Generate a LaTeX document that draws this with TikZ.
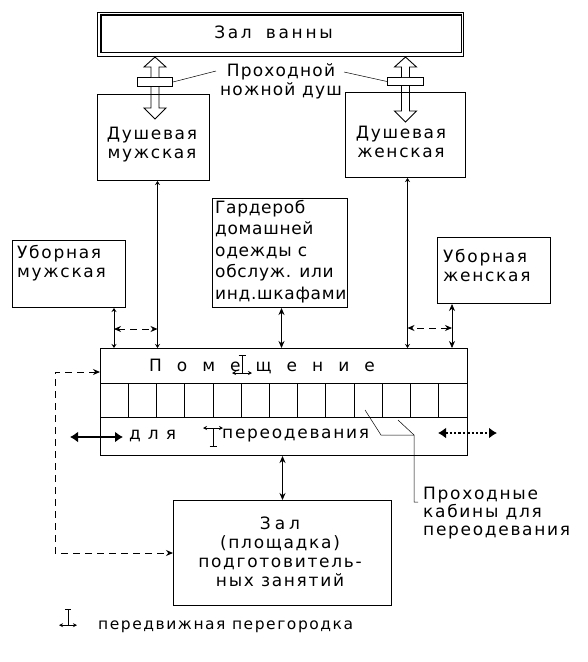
\documentclass[tikz,border=0pt]{standalone}
\usepackage{fontspec}
\setmainfont{DejaVu Sans}[LetterSpace=10]
\usetikzlibrary{arrows.meta,calc}
\newcommand{\rus}{\fontsize{17}{19}\selectfont}
\newcommand{\gap}{\hskip 15pt}
\tikzset{partition/.pic={
  \draw[line width=0.8pt] (0,-10) -- (0,8);
  \draw[line width=0.8pt] (-3.5,-10) -- (3.5,-10);
  \draw[line width=0.8pt,{Stealth[length=4pt,width=4pt]}-{Stealth[length=4pt,width=4pt]}] (-10,8) -- (10,8);
}}

\begin{document}
\begin{tikzpicture}[x=1pt,y=-1pt,font=\rus,
  box/.style={draw,line width=1pt,anchor=north west,inner sep=0pt},
  txt/.style={align=center,inner sep=0pt},
  txl/.style={align=left,inner sep=0pt,anchor=north west},
  lnk/.style={line width=0.7pt,{Stealth[length=4pt,width=5pt]}-{Stealth[length=4pt,width=5pt]}},
  arr/.style={line width=0.8pt,{Stealth[length=7pt,width=6pt]}-{Stealth[length=7pt,width=6pt]}},
  dlnk/.style={arr,dash pattern=on 7pt off 5pt},
  hol/.style={line width=0.9pt,line join=miter,fill=white},
  bold/.style={line width=2.4pt,{Latex[length=8pt,width=11pt]}-{Latex[length=8pt,width=11pt]}},
  lead/.style={line width=0.5pt}]
\useasboundingbox (0,0) rectangle (587,662);

% bath and foot showers
\node[box,line width=1.1pt,minimum width=366,minimum height=44] (bath) at (97,12) {};
\draw[line width=1.1pt] ($(bath.north west)+(4,3)$) rectangle ($(bath.south east)+(-3,-5)$);
\node[txt,font=\rus\addfontfeatures{LetterSpace=16}] (batht) at ($(bath.center)+(-7,-2)$) {Зал\hskip 14pt ванны};
\node[box,minimum width=35,minimum height=9] (doorL) at (137,77) {};
\node[box,minimum width=36,minimum height=8] (doorR) at (387,77) {};
\node[txt,font=\rus\addfontfeatures{LetterSpace=7}] (pass) at (281,81) {Проходной\\ножной душ};
% hollow passage arrows
\draw[hol] (doorL.north) ++(-4,0) -- ++(0,-10) -- ++(-7,0) -- ++(11,-10) -- ++(11,10) -- ++(-7,0) -- ++(0,10);
\draw[hol] (doorL.south) ++(-4,0) -- ++(0,21) -- ++(-7,0) -- ++(11,11) -- ++(11,-11) -- ++(-7,0) -- ++(0,-21);
\draw[hol] (doorR.north) ++(-4,0) -- ++(0,-10) -- ++(-7,0) -- ++(11,-10) -- ++(11,10) -- ++(-7,0) -- ++(0,10);
\draw[hol] (doorR.south) ++(-4,0) -- ++(0,25) -- ++(-7,0) -- ++(11,11) -- ++(11,-11) -- ++(-7,0) -- ++(0,-25);
\draw[lead] (doorL.east) -- ($(pass.west)+(-4,-10)$);
\draw[lead] ($(pass.east)+(2,-9)$) -- (doorR.west);

% showers, wardrobe, toilets
\node[box,minimum width=112,minimum height=86] (showerM) at (97,94) {};
\node[txt] (showerMt) at (152,145) {Душевая\\мужская};
\node[box,minimum width=120,minimum height=85] (showerW) at (345,92) {};
\node[txt] (showerWt) at (401,142) {Душевая\\женская};
\node[box,minimum width=135,minimum height=109] (ward) at (212,198) {};
\node[txl,font=\fontsize{17}{21.5}\selectfont\addfontfeatures{LetterSpace=4}] (wardt) at (215,200) {Гардероб\\домашней\\одежды с\\обслуж. или\\инд.шкафами};
\node[box,minimum width=113,minimum height=67] (toilM) at (12,240) {};
\node[txl] (toilMt) at (17,245) {Уборная\\мужская};
\node[box,minimum width=113,minimum height=66] (toilW) at (437,237) {};
\node[txl] (toilWt) at (443,249) {Уборная\\женская};

% changing room with cabins
\node[box,minimum width=367,minimum height=107] (room) at (100,348) {};
\draw[line width=0.8pt] ($(room.north west)+(0,35)$) -- ($(room.north east)+(0,35)$);
\draw[line width=0.8pt] ($(room.north west)+(0,69)$) -- ($(room.north east)+(0,69)$);
\foreach \i in {1,...,12}
  \draw[line width=0.8pt] ($(room.north west)+(\i*367/13,35)$) -- ++(0,34);
\node[txt] (roomt) at (262,366) {П\gap о\gap м\gap е\gap щ\gap е\gap н\gap и\gap е};
\pic at (242,365) {partition};
\node[txl,anchor=west] (roomb1) at (129,436) {д\hskip7pt л\hskip7pt я};
\node[txl,anchor=west] (roomb2) at (222,436) {переодевания};
\pic[yscale=-1] at (213,436) {partition};
\coordinate (boldL1) at (70,437);
\coordinate (boldL2) at (123,437);
\coordinate (boldR1) at (438,433);
\coordinate (boldR2) at (497,433);
\draw[bold] (boldL1) -- (boldL2);
\draw[bold,dotted] (boldR1) -- (boldR2);

% links
\draw[lnk] ($(showerM.south)+(4,0)$) coordinate (mA) -- (mA |- room.north);
\draw[lnk] ($(showerW.south)+(2,0)$) coordinate (fA) -- (fA |- room.north);
\draw[lnk] ($(toilM.south east)+(-12,0)$) coordinate (tA) -- (tA |- room.north);
\draw[arr] ($(toilW.south west)+(15,0)$) coordinate (wA) -- (wA |- room.north);
\draw[arr] ($(ward.south)+(1.5,0)$) coordinate (gA) -- (gA |- room.north);
\draw[dlnk] ($(tA)+(0,21)$) -- ($(tA -| mA)+(0,21)$);
\draw[dlnk] ($(wA)+(0,24)$) -- ($(wA -| fA)+(0,24)$);

% training hall
\node[box,minimum width=218,minimum height=105] (hall) at (173,500) {};
\node[txt] (hallt) at (280,552) {З\hskip4pt а\hskip4pt л\\(площадка)\\подготовитель-\\ных занятий};
\draw[arr] (hall.north) -- (hall.north |- room.south);
\draw[dlnk,line width=1pt] ($(room.north west)+(0,24)$) -- ++(-45,0) |- (hall.west);

% cabin note
\node[txl,font=\fontsize{17}{18}\selectfont] (note) at (423,487) {Проходные\\кабины для\\переодевания};
\coordinate (cab1) at (365,410);
\coordinate (cab2) at (398,420);
\coordinate (kn) at (414,435);
\draw[lead] (cab1) -- ++(16,25) -- (kn) -- ($(note.north west)+(-9,15)$) -- ++(4,0);
\draw[lead] (cab2) -- (kn);

% legend
\pic[scale=0.9] at (68,618) {partition};
\node[txl,anchor=west,font=\fontsize{15.5}{18}\selectfont] (legend) at (98,627) {передвижная перегородка};
\end{tikzpicture}
\end{document}
